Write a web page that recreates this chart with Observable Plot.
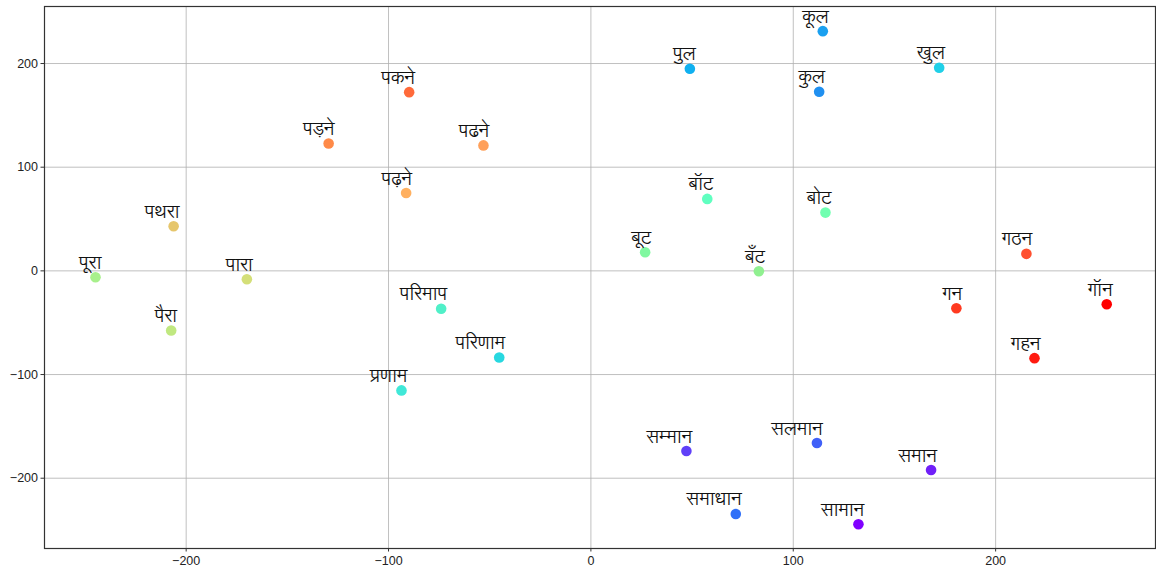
<!DOCTYPE html>
<html>
<head>
<meta charset="utf-8">
<script src="https://cdn.jsdelivr.net/npm/d3@7"></script>
<script src="https://cdn.jsdelivr.net/npm/@observablehq/plot@0.6"></script>
<style>
  html, body { margin: 0; padding: 0; background: #fff; }
  #chart svg { display: block; }
</style>
</head>
<body>
<div id="chart"></div>
<script>
const words = ["पूरा","पथरा","पारा","पड़ने","पकने","पढने","पढ़ने","पुल","बॉट","बूट","बँट","कूल","खुल","कुल","बोट","गठन","परिमाप","परिणाम","प्रणाम","पैरा","सम्मान","समाधान","गन","गॉन","गहन","सलमान","समान","सामान"];
const xs = [-244.8,-206.2,-170.0,-129.6,-89.8,-53.1,-91.3,48.9,57.5,26.8,83.0,114.6,172.1,112.8,115.9,215.2,-74.0,-45.3,-93.6,-207.4,47.2,71.6,180.6,254.9,219.2,111.7,168.1,132.2];
const ys = [-6.2,43.0,-8.1,122.9,172.4,121.0,75.1,194.9,69.4,17.9,-0.4,231.2,195.9,172.7,56.2,16.4,-36.6,-83.5,-115.3,-57.5,-173.8,-234.5,-36.0,-32.2,-84.2,-166.1,-192.1,-244.4];
const colors = ["#a8f08c","#e6c66c","#d4df78","#ff8a48","#ff6a3a","#ffa05a","#ffb060","#10b0f0","#60ffc0","#80f8a0","#90f090","#1aa0f0","#20d0e8","#2090f0","#70ffb0","#ff5030","#50f0c8","#28d8e0","#40e8d8","#c0e880","#6040f8","#3070f8","#ff3a20","#ff0000","#ff1a10","#4060f8","#7020f8","#8000ff"];
const xTicks = [-200,-100,0,100,200];
const yTicks = [-200,-100,0,100,200];

const data = words.map((w, i) => ({word: w, x: xs[i], y: ys[i], color: colors[i]}));

const chart = Plot.plot({
  width: 1156,
  height: 572,
  marginLeft: 44,
  marginRight: 1,
  marginTop: 6,
  marginBottom: 24,
  style: {fontFamily: "'Liberation Sans', Arial, sans-serif", fontSize: "12.5px", color: "#222", background: "#fff"},
  x: {domain: [-270, 279], label: null},
  y: {domain: [-267.8, 255], label: null},
  marks: [
    Plot.gridX(xTicks, {stroke: "#b0b0b0", strokeOpacity: 1, strokeWidth: 0.8}),
    Plot.gridY(yTicks, {stroke: "#b0b0b0", strokeOpacity: 1, strokeWidth: 0.8}),
    Plot.axisX({ticks: xTicks, tickSize: 3.5, tickPadding: 4, stroke: "#333", fill: "#222", fontSize: 12.5}),
    Plot.axisY({ticks: yTicks, tickSize: 3.5, tickPadding: 3, stroke: "#333", fill: "#222", fontSize: 12.5}),
    Plot.dot(data, {x: "x", y: "y", r: 5.3, fill: "color", stroke: "none"}),
    Plot.text(data, {x: "x", y: "y", text: "word", textAnchor: "end", lineAnchor: "bottom", dx: 6, dy: -8.5, fontSize: 18.5, fill: "#111", fontFamily: "'Lohit Devanagari', 'Noto Sans', sans-serif"}),
    Plot.frame({stroke: "#333", strokeWidth: 1.2})
  ]
});
document.getElementById("chart").appendChild(chart);
</script>
</body>
</html>
